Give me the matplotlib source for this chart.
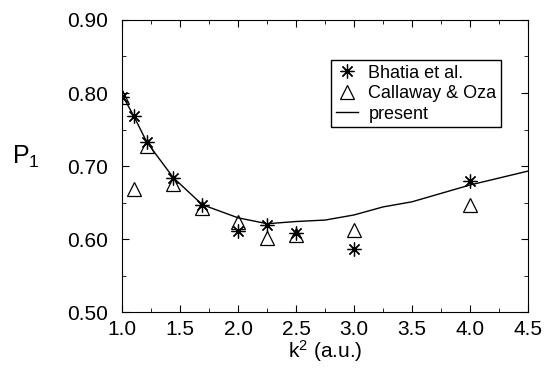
import matplotlib.pyplot as plt
from matplotlib.ticker import MultipleLocator

# ================= DATA =================
k2_pts = [1.0, 1.1, 1.21, 1.44, 1.69, 2.0, 2.25, 2.5, 3.0, 4.0]
bhatia = [0.795, 0.768, 0.733, 0.684, 0.647, 0.611, 0.619, 0.608, 0.587, 0.680]
callaway = [0.795, 0.668, 0.727, 0.675, 0.643, 0.623, 0.601, 0.606, 0.613, 0.646]

k2_line = [1.0, 1.1, 1.21, 1.44, 1.69, 2.0, 2.25, 2.5, 2.75, 3.0, 3.25, 3.5, 4.0, 4.5]
present = [0.797, 0.768, 0.733, 0.684, 0.647, 0.629, 0.621, 0.624, 0.626, 0.633, 0.644, 0.651, 0.674, 0.693]

plt.rcParams['font.family'] = ['Liberation Sans', 'DejaVu Sans']
plt.rcParams['mathtext.fontset'] = 'custom'
plt.rcParams['mathtext.rm'] = 'Liberation Sans'
plt.rcParams['mathtext.it'] = 'Liberation Sans'

fig = plt.figure(figsize=(5.47, 3.68), dpi=100)
ax = fig.add_axes([0.2237, 0.152, 0.7413, 0.7937])

ax.plot(k2_pts, bhatia, linestyle='none', marker=(8, 2, 0), markersize=10,
        color='black', markeredgewidth=0.9, label='Bhatia et al.')
ax.plot(k2_pts, callaway, linestyle='none', marker='^', markersize=10.5,
        markerfacecolor='none', markeredgecolor='black', markeredgewidth=0.9,
        label='Callaway & Oza')
ax.plot(k2_line, present, color='black', linewidth=1.0, label='present')

ax.set_xlim(1.0, 4.5)
ax.set_ylim(0.50, 0.90)
ax.xaxis.set_major_locator(MultipleLocator(0.5))
ax.xaxis.set_minor_locator(MultipleLocator(0.25))
ax.yaxis.set_major_locator(MultipleLocator(0.1))
ax.yaxis.set_minor_locator(MultipleLocator(0.05))
ax.tick_params(which='both', direction='in', top=True, right=True, labelsize=15)
ax.tick_params(which='major', length=5)
ax.tick_params(which='minor', length=3)
ax.tick_params(axis='y', pad=10)
ax.tick_params(axis='x', pad=6)
ax.set_xticklabels([f'{v:.1f}' for v in ax.get_xticks()])
ax.set_yticklabels([f'{v:.2f}' for v in ax.get_yticks()])

ax.set_xlabel('k$^2$ (a.u.)', fontsize=15, labelpad=-1)
fig.text(0.022, 0.573, 'P$_1$', fontsize=18, ha='left', va='center')

ax.legend(loc='upper right', bbox_to_anchor=(0.934, 0.863), fontsize=13,
          frameon=True, fancybox=False, edgecolor='black', framealpha=1,
          handlelength=1.2, handletextpad=0.6, borderpad=0.25, labelspacing=0.2,
          borderaxespad=0)

fig.savefig('out.png', dpi=100)
